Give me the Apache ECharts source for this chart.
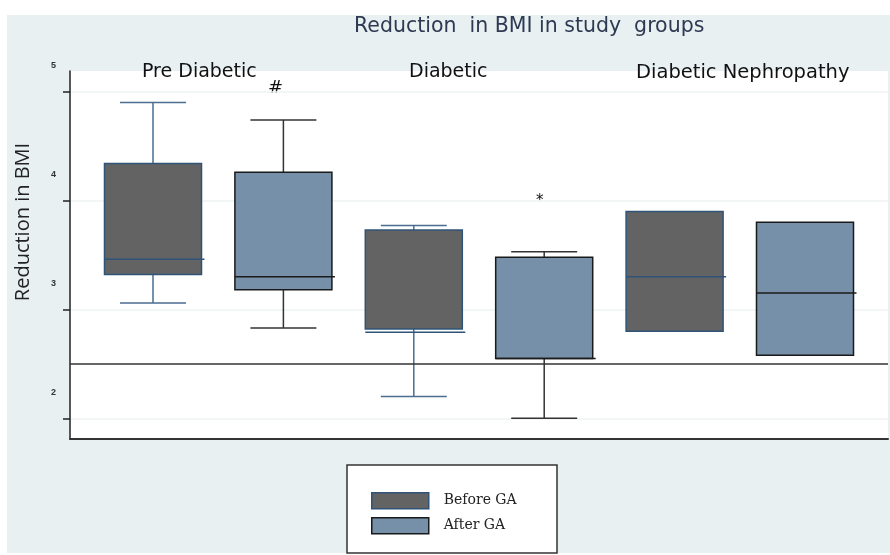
<!DOCTYPE html>
<html>
<head>
<meta charset="utf-8">
<script src="https://cdn.jsdelivr.net/npm/echarts@6/dist/echarts.min.js"></script>
<style>
  html, body { margin: 0; padding: 0; background: #fff; }
  #box { width: 890px; height: 555px; }
</style>
</head>
<body>
<div id="box"></div>
<script>
// 数据：每组 [min, Q1, median, Q3, max]
var groups = ["Pre Diabetic", "Diabetic", "Diabetic Nephropathy"];
var seriesNames = ["Before GA", "After GA"];
var beforeGA = [
  [3.06, 3.32, 3.46, 4.34, 4.90],
  [2.20, 2.82, 2.79, 3.73, 3.77],
  [2.80, 2.80, 3.30, 3.90, 3.90]
];
var afterGA = [
  [2.83, 3.18, 3.30, 4.26, 4.74],
  [2.00, 2.55, 2.55, 3.48, 3.53],
  [2.58, 2.58, 3.15, 3.80, 3.80]
];
var yTicks = [2, 3, 4, 5];
var refLine = 2.5;
var marks = ["#", "*"];

var myChart = echarts.init(document.getElementById("box"));

var beforeStyle = { fill: "#636363", border: "#2f5478", whisker: "#4a6d90" };
var afterStyle = { fill: "#7690a9", border: "#1a1a1a", whisker: "#333333" };

// 每个箱子在横轴上的位置：Before 在 1,3,5；After 在 2,4,6
function toData(list, offset) {
  return list.map(function (s, i) {
    return [i * 2 + offset].concat(s);
  });
}

function makeRender(st) {
  return function (params, api) {
    var x = api.value(0);
    var unit = api.size([1, 0])[0];
    var half = unit * 0.372;
    var capHalf = unit * 0.253;
    var pMin = api.coord([x, api.value(1)]);
    var pQ1 = api.coord([x, api.value(2)]);
    var pMed = api.coord([x, api.value(3)]);
    var pQ3 = api.coord([x, api.value(4)]);
    var pMax = api.coord([x, api.value(5)]);
    var cx = pMin[0];
    var children = [];
    var lineStyle = { stroke: st.whisker, lineWidth: 1.5 };
    if (pMax[1] < pQ3[1] - 0.5) {
      children.push({ type: "line", shape: { x1: cx, y1: pMax[1], x2: cx, y2: pQ3[1] }, style: lineStyle });
      children.push({ type: "line", shape: { x1: cx - capHalf, y1: pMax[1], x2: cx + capHalf, y2: pMax[1] }, style: lineStyle });
    }
    if (pMin[1] > pQ1[1] + 0.5) {
      children.push({ type: "line", shape: { x1: cx, y1: pQ1[1], x2: cx, y2: pMin[1] }, style: lineStyle });
      children.push({ type: "line", shape: { x1: cx - capHalf, y1: pMin[1], x2: cx + capHalf, y2: pMin[1] }, style: lineStyle });
    }
    children.push({
      type: "rect",
      shape: { x: cx - half, y: pQ3[1], width: half * 2, height: pQ1[1] - pQ3[1] },
      style: { fill: st.fill, stroke: st.border, lineWidth: 1.5 }
    });
    children.push({
      type: "line",
      shape: { x1: cx - half, y1: pMed[1], x2: cx + half + 3, y2: pMed[1] },
      style: { stroke: st.border, lineWidth: 1.5 }
    });
    return { type: "group", children: children };
  };
}

function legendBlock(name, st, top) {
  return {
    left: 371, top: top, padding: 0,
    itemWidth: 57, itemHeight: 16,
    icon: "rect",
    textStyle: { fontFamily: "'DejaVu Serif'", fontSize: 14, color: "#222", padding: [0, 0, 0, 10] },
    data: [{ name: name, itemStyle: { color: st.fill, borderColor: st.border, borderWidth: 1.5 } }]
  };
}

var option = {
  animation: false,
  graphic: [
    {
      type: "rect", z: -10, silent: true,
      shape: { x: 7, y: 15, width: 883, height: 538 },
      style: { fill: "#e8f0f2" }
    },
    {
      type: "rect", silent: true,
      shape: { x: 347, y: 465, width: 210, height: 88 },
      style: { fill: "#ffffff", stroke: "#333", lineWidth: 1.5 }
    },
    {
      type: "text", left: 354, top: 16,
      style: { text: "Reduction  in BMI in study  groups", fill: "#2e3a52", font: "20.5px 'DejaVu Sans'" }
    },
    { type: "text", left: 142, top: 63, style: { text: groups[0], fill: "#111", font: "19px 'DejaVu Sans'" } },
    { type: "text", left: 409, top: 63, style: { text: groups[1], fill: "#111", font: "19px 'DejaVu Sans'" } },
    { type: "text", left: 636, top: 63, style: { text: groups[2], fill: "#111", font: "19.5px 'DejaVu Sans'" } },
    { type: "text", left: 268, top: 79, style: { text: marks[0], fill: "#111", font: "18px 'DejaVu Sans'" } },
    { type: "text", left: 536, top: 194, style: { text: marks[1], fill: "#111", font: "15px 'DejaVu Sans'" } }
  ],
  grid: {
    left: 70, right: 2, top: 71, bottom: 116,
    show: true, backgroundColor: "#ffffff", borderWidth: 0
  },
  legend: [
    legendBlock(seriesNames[0], beforeStyle, 492),
    legendBlock(seriesNames[1], afterStyle, 517)
  ],
  xAxis: {
    type: "value",
    min: 0.3635, max: 6.6365,
    axisLine: { show: true, onZero: false, lineStyle: { color: "#333", width: 2 } },
    axisTick: { show: false },
    axisLabel: { show: false },
    splitLine: { show: false }
  },
  yAxis: {
    type: "value",
    min: 1.81, max: 5.19,
    name: "Reduction in BMI",
    nameLocation: "middle",
    nameGap: 37,
    nameTextStyle: { fontFamily: "'Open Sans'", fontSize: 20, color: "#222", padding: [0, 0, 0, 66] },
    axisLine: { show: true, lineStyle: { color: "#222", width: 1.5 } },
    axisTick: { show: true, length: 7, customValues: yTicks, lineStyle: { color: "#222", width: 1.5 } },
    axisLabel: {
      customValues: yTicks, margin: 14,
      formatter: "{v|{value}}",
      rich: { v: { fontSize: 9, fontWeight: "bold", color: "#333", padding: [0, 0, 52, 0] } }
    },
    splitLine: { show: true, lineStyle: { color: "#eef3f5", width: 1.5 } }
  },
  series: [
    {
      name: seriesNames[0],
      type: "custom",
      renderItem: makeRender(beforeStyle),
      data: toData(beforeGA, 1),
      encode: { x: 0, y: [1, 2, 3, 4, 5] },
      markLine: {
        silent: true, symbol: "none",
        label: { show: false },
        lineStyle: { color: "#333", width: 1.5, type: "solid" },
        data: [{ yAxis: refLine }]
      }
    },
    {
      name: seriesNames[1],
      type: "custom",
      renderItem: makeRender(afterStyle),
      data: toData(afterGA, 2),
      encode: { x: 0, y: [1, 2, 3, 4, 5] }
    }
  ]
};

myChart.setOption(option);
</script>
</body>
</html>
